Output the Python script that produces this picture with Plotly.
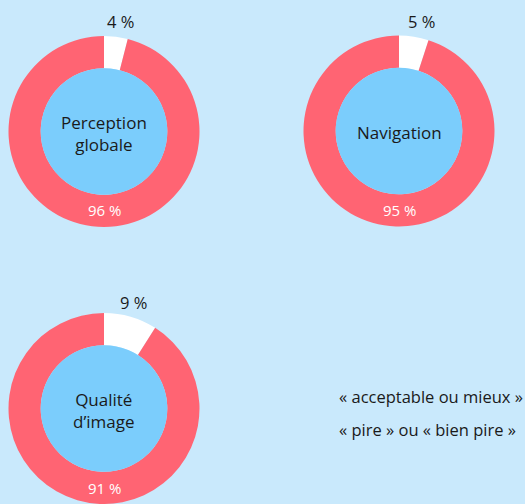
import plotly.graph_objects as go

W, H = 525, 504

# Data
categories = ["Perception<br>globale", "Navigation", "Qualité<br>d’image"]
acceptable = [4, 5, 9]          # « acceptable ou mieux » (white slice)
pire = [96, 95, 91]             # « pire » ou « bien pire » (red slice)
series_names = ["« acceptable ou mieux »", "« pire » ou « bien pire »"]

BG = "#c9e9fc"
RED = "#ff6473"
WHITE = "#ffffff"
INNER = "#7bcdfc"
FONT = "Open Sans"
DARK = "#1a1a1a"

# layout geometry (pixel centres, outer and inner radius)
centers = [(104, 131.5), (399, 131), (104, 408.5)]
R_OUT = 95.5
R_IN = 63.3
top_label_pos = [(120, 22), (421, 22), (133, 302)]
bottom_label_pos = [(104, 210), (399, 210), (104, 488)]


def dom(cx, cy, r):
    y0 = max(0.0, (H - cy - r) / H)
    y1 = min(1.0, (H - cy + r) / H)
    return dict(x=[(cx - r) / W, (cx + r) / W], y=[y0, y1])


def ann(x, y, text, size, color, anchor="center"):
    return dict(x=x / W, y=(H - y) / H, xref="paper", yref="paper",
                text=text, showarrow=False,
                font=dict(family=FONT, size=size, color=color),
                xanchor=anchor, yanchor="middle")


fig = go.Figure()
annotations = []
for i, cat in enumerate(categories):
    cx, cy = centers[i]
    fig.add_trace(go.Pie(
        values=[acceptable[i], pire[i]],
        labels=series_names,
        marker=dict(colors=[WHITE, RED], line=dict(width=0)),
        hole=R_IN / R_OUT,
        sort=False,
        direction="clockwise",
        rotation=0,
        textinfo="none",
        hoverinfo="label+percent",
        showlegend=False,
        domain=dom(cx, cy, R_OUT),
    ))
    fig.add_trace(go.Pie(
        values=[1],
        labels=[cat],
        marker=dict(colors=[INNER], line=dict(width=0)),
        textinfo="none",
        hoverinfo="skip",
        showlegend=False,
        domain=dom(cx, cy, R_IN),
    ))
    annotations.append(ann(cx, cy + 2, cat, 17, DARK))
    tx, ty = top_label_pos[i]
    annotations.append(ann(tx, ty, f"{acceptable[i]} %", 16.5, DARK))
    bx, by = bottom_label_pos[i]
    annotations.append(ann(bx, by, f"{pire[i]} %", 15, "#ffffff"))

# legend texts
for j, name in enumerate(series_names):
    annotations.append(ann(337, 396 + 33 * j, name, 16.5, DARK, anchor="left"))

fig.update_layout(
    width=W, height=H,
    margin=dict(l=0, r=0, t=0, b=0),
    paper_bgcolor=BG, plot_bgcolor=BG,
    annotations=annotations,
    showlegend=False,
)

fig.write_html(
    "out.html",
    config={"displayModeBar": False},
    post_script="document.body.style.margin='0';document.body.style.background='%s';" % BG,
)
